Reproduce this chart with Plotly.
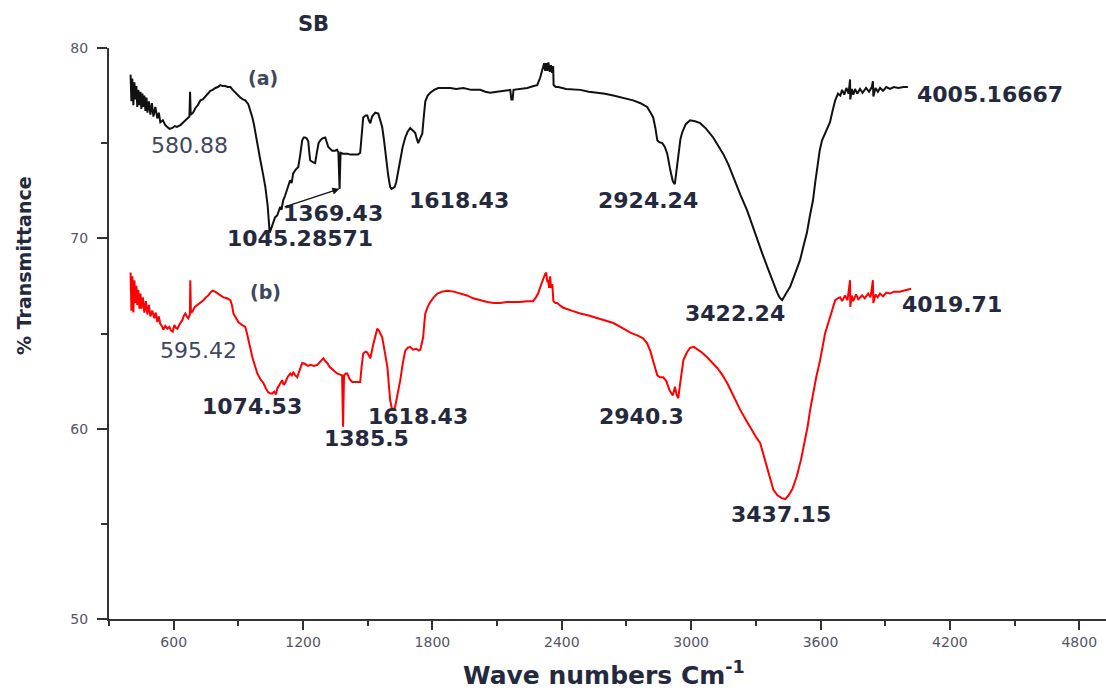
import plotly.graph_objects as go

# FTIR spectra of sample SB: (a) black trace, (b) red trace
wn_a = [400, 404, 408, 413, 418, 422, 427, 431, 436, 441, 446, 450, 455, 459, 464, 469, 474, 478, 485, 492,
        499, 506, 515, 524, 531, 538, 550, 561, 570, 580.88, 594, 605, 615, 631, 645, 654, 665, 673, 676, 679,
        690, 701, 712, 724, 735, 747, 758, 770, 781, 793, 805, 816, 828, 839, 851, 863, 874, 886, 898, 909,
        921, 932, 946, 956, 965, 972, 979, 990, 1002, 1014, 1025, 1036, 1045.28571, 1055, 1062, 1070, 1080,
        1087, 1094, 1100, 1108, 1117, 1128, 1140, 1147, 1154, 1165, 1178, 1187, 1196, 1203, 1210, 1217, 1224,
        1229, 1233, 1245, 1256, 1264, 1272, 1280, 1290, 1303, 1310, 1317, 1326, 1335, 1348, 1358, 1364,
        1369.43, 1374, 1385, 1405, 1420, 1442, 1455, 1465, 1472, 1479, 1490, 1498, 1505, 1512, 1520, 1535,
        1549, 1558, 1567, 1575, 1581, 1588, 1595, 1604, 1610, 1618.43, 1625, 1632, 1640, 1651, 1662, 1674,
        1685, 1697, 1708, 1720, 1727, 1734, 1745, 1753, 1760, 1767, 1778, 1790, 1808, 1827, 1855, 1883, 1910,
        1943, 1980, 2022, 2045, 2068, 2100, 2130, 2161, 2166, 2172, 2176, 2210, 2240, 2270, 2286, 2300, 2310,
        2318, 2323, 2328, 2333, 2338, 2344, 2350, 2355, 2360, 2362, 2372, 2384, 2420, 2486, 2525, 2564, 2600,
        2639, 2680, 2731, 2765, 2796, 2812, 2824, 2834, 2843, 2852, 2866, 2878, 2889, 2903, 2915, 2924.24,
        2931, 2940, 2950, 2958, 2975, 2995, 3018, 3042, 3070, 3102, 3125, 3148, 3172, 3195, 3228, 3260, 3283,
        3306, 3330, 3353, 3376, 3399, 3410, 3422.24, 3440, 3459, 3482, 3505, 3521, 3537, 3551, 3565, 3575,
        3584, 3596, 3607, 3621, 3633, 3644, 3656, 3668, 3681, 3692, 3700, 3710, 3720, 3730, 3737, 3738, 3745,
        3752, 3760, 3770, 3783, 3795, 3811, 3825, 3838, 3843, 3845, 3855, 3866, 3876, 3890, 3905, 3922, 3940,
        3960, 3985, 4005.16667]
T_a = [78.6, 77.2, 78.4, 77.0, 78.2, 77.3, 78.0, 76.9, 77.8, 77.0, 77.7, 76.8, 77.6, 76.9, 77.5, 76.7, 77.4,
       76.6, 77.2, 76.5, 77.1, 76.4, 76.9, 76.3, 76.6, 76.1, 76.2, 75.95, 75.85, 75.75, 75.8, 75.9, 75.85,
       75.95, 76.1, 76.2, 76.35, 76.4, 77.7, 76.5, 76.6, 76.85, 77.0, 77.25, 77.3, 77.45, 77.6, 77.75, 77.8,
       77.9, 77.95, 78.05, 78.0, 78.0, 77.95, 77.95, 77.8, 77.65, 77.5, 77.4, 77.3, 77.25, 77.05, 76.7, 76.35,
       76.0, 75.5, 74.8, 74.1, 73.4, 72.7, 71.7, 70.3, 70.6, 70.9, 71.1, 71.2, 71.5, 71.65, 71.5, 72.0, 72.25,
       72.7, 73.05, 72.9, 73.4, 73.6, 73.75, 74.4, 75.15, 75.3, 75.3, 75.25, 75.1, 74.5, 74.1, 74.0, 73.95,
       74.5, 75.0, 75.15, 75.25, 75.3, 75.05, 74.8, 74.7, 74.6, 74.6, 74.65, 74.5, 72.6, 74.5, 74.45, 74.45,
       74.4, 74.4, 74.4, 74.5, 75.6, 76.35, 76.45, 76.45, 76.2, 76.05, 76.4, 76.6, 76.55, 76.2, 75.85, 75.2,
       74.6, 73.9, 73.3, 72.7, 72.6, 72.65, 72.7, 72.95, 73.5, 74.1, 74.8, 75.3, 75.6, 75.8, 75.7, 75.55,
       75.25, 75.0, 75.3, 75.5, 76.4, 77.2, 77.5, 77.65, 77.8, 77.9, 77.9, 77.9, 77.85, 77.9, 77.8, 77.8,
       77.7, 77.65, 77.7, 77.75, 77.8, 77.3, 77.3, 77.8, 77.85, 77.9, 78.0, 78.05, 78.45, 78.9, 79.2, 78.8,
       79.2, 78.8, 79.25, 78.75, 79.1, 78.7, 79.05, 78.05, 77.95, 77.95, 77.85, 77.8, 77.7, 77.65, 77.6,
       77.5, 77.4, 77.25, 77.1, 76.9, 76.6, 76.35, 75.8, 75.15, 75.05, 75.0, 74.8, 74.45, 73.6, 73.0, 72.85,
       73.5, 74.4, 75.2, 75.55, 76.0, 76.2, 76.15, 76.05, 75.75, 75.3, 74.9, 74.45, 73.9, 73.2, 72.3, 71.45,
       70.7, 69.9, 69.2, 68.5, 67.8, 67.15, 66.9, 66.75, 67.1, 67.45, 68.15, 68.85, 69.6, 70.3, 71.2, 72.0,
       72.9, 73.75, 74.6, 75.15, 75.5, 75.8, 76.1, 76.7, 77.25, 77.6, 77.5, 77.8, 77.55, 77.9, 77.6, 78.35,
       77.3, 77.85, 77.55, 77.85, 77.6, 77.85, 77.65, 77.9, 77.7, 77.95, 78.25, 77.45, 77.9, 77.7, 77.9,
       77.75, 77.95, 77.85, 77.95, 77.9, 77.95, 77.95]

wn_b = [400, 404, 408, 413, 418, 422, 427, 431, 436, 441, 446, 450, 457, 464, 471, 478, 485, 492, 501, 510,
        517, 524, 531, 538, 545, 552, 561, 571, 580, 588, 595.42, 603, 610, 617, 628, 640, 648, 654, 661, 668,
        675, 677, 680, 687, 698, 710, 724, 738, 750, 761, 770, 780, 792, 803, 817, 831, 847, 863, 870, 877,
        888, 900, 916, 932, 940, 946, 955, 965, 977, 988, 1002, 1016, 1028, 1039, 1050, 1058, 1066, 1074.53,
        1080, 1092, 1103, 1110, 1117, 1128, 1141, 1148, 1155, 1164, 1173, 1185, 1196, 1210, 1222, 1234, 1250,
        1266, 1280, 1294, 1303, 1312, 1323, 1335, 1347, 1358, 1370, 1381, 1385.5, 1390, 1398, 1405, 1416,
        1428, 1446, 1465, 1472, 1479, 1490, 1498, 1505, 1512, 1525, 1537, 1544, 1552, 1558, 1567, 1575, 1583,
        1591, 1598, 1604, 1611, 1618.43, 1627, 1639, 1651, 1662, 1674, 1685, 1697, 1710, 1725, 1737, 1744,
        1751, 1757, 1762, 1767, 1778, 1790, 1806, 1823, 1845, 1869, 1899, 1929, 1960, 1989, 2020, 2054, 2085,
        2114, 2145, 2175, 2205, 2240, 2267, 2280, 2290, 2302, 2314, 2322, 2328, 2333, 2337, 2341, 2346, 2350,
        2356, 2361, 2370, 2379, 2395, 2407, 2445, 2486, 2525, 2564, 2600, 2639, 2680, 2718, 2750, 2777, 2795,
        2810, 2825, 2843, 2855, 2870, 2885, 2900, 2915, 2925, 2932, 2940.3, 2948, 2955, 2964, 2980, 2995,
        3012, 3027, 3050, 3074, 3097, 3120, 3143, 3167, 3197, 3227, 3257, 3287, 3304, 3320, 3337, 3353, 3367,
        3381, 3400, 3420, 3437.15, 3455, 3470, 3490, 3510, 3525, 3540, 3552, 3565, 3580, 3598, 3610, 3621,
        3633, 3644, 3656, 3668, 3680, 3691, 3700, 3714, 3725, 3737, 3738, 3745, 3752, 3765, 3775, 3793, 3805,
        3821, 3832, 3843, 3845, 3855, 3865, 3876, 3890, 3905, 3922, 3940, 3968, 3990, 4005, 4019.71]
T_b = [68.2, 66.2, 68.0, 66.1, 67.8, 66.6, 67.5, 66.5, 67.3, 66.3, 67.1, 66.3, 66.9, 66.1, 66.7, 66.0, 66.5,
       65.9, 66.2, 65.8, 66.1, 65.6, 65.9, 65.5, 65.4, 65.2, 65.4, 65.25, 65.35, 65.15, 65.1, 65.45, 65.3,
       65.25, 65.5, 65.7, 65.95, 66.05, 65.9, 65.8, 66.0, 67.8, 66.1, 66.15, 66.4, 66.5, 66.6, 66.75, 66.9,
       67.0, 67.15, 67.25, 67.2, 67.1, 67.0, 66.9, 66.85, 66.75, 66.5, 66.05, 65.8, 65.6, 65.45, 65.35, 65.0,
       64.65, 64.2, 63.75, 63.3, 62.9, 62.6, 62.4, 62.1, 61.9, 61.85, 61.85, 61.95, 61.8, 62.1, 62.35, 62.55,
       62.3, 62.4, 62.7, 62.9, 62.8, 62.95, 62.8, 62.7, 63.1, 63.45, 63.4, 63.3, 63.35, 63.3, 63.35, 63.5,
       63.7, 63.55, 63.45, 63.25, 63.1, 63.0, 62.9, 62.85, 62.8, 60.1, 62.8, 62.9, 62.9, 62.6, 62.45, 62.45,
       62.45, 63.3, 63.95, 64.05, 64.0, 63.85, 63.7, 64.4, 65.0, 65.25, 65.15, 65.0, 64.8, 64.3, 63.8, 63.25,
       62.3, 61.5, 61.1, 60.95, 61.15, 61.8, 62.55, 63.4, 64.1, 64.25, 64.3, 64.15, 64.2, 64.1, 64.15, 64.5,
       64.8, 65.5, 66.05, 66.4, 66.65, 66.9, 67.1, 67.2, 67.25, 67.2, 67.1, 67.0, 66.85, 66.75, 66.65, 66.6,
       66.6, 66.65, 66.65, 66.65, 66.7, 66.7, 66.9, 67.1, 67.5, 67.9, 68.1, 68.2, 67.7, 67.8, 67.4, 68.0,
       67.4, 67.6, 66.7, 66.6, 66.6, 66.45, 66.35, 66.2, 66.05, 65.95, 65.8, 65.7, 65.55, 65.3, 65.05, 64.9,
       64.75, 64.5, 64.1, 63.5, 62.8, 62.7, 62.7, 62.5, 62.0, 61.75, 62.2, 61.8, 61.6, 62.3, 62.9, 63.6,
       64.0, 64.25, 64.3, 64.2, 64.0, 63.75, 63.5, 63.2, 62.85, 62.4, 61.7, 61.0, 60.4, 59.8, 59.5, 59.25,
       58.6, 58.0, 57.4, 56.8, 56.5, 56.35, 56.3, 56.55, 56.85, 57.5, 58.4, 59.2, 60.1, 61.0, 61.85, 62.7,
       63.6, 64.4, 65.0, 65.45, 65.85, 66.3, 66.75, 66.85, 66.9, 66.7, 67.0, 66.75, 67.8, 66.4, 67.0, 66.7,
       67.05, 66.8, 67.0, 66.85, 67.1, 66.9, 67.8, 66.6, 67.05, 66.9, 67.1, 66.95, 67.15, 67.1, 67.2, 67.2,
       67.25, 67.3, 67.35]

x_ticks = [600, 1200, 1800, 2400, 3000, 3600, 4200, 4800]
y_ticks = [50, 60, 70, 80]

# peak labels (text) for each trace
peaks_a = ["580.88", "1369.43", "1045.28571", "1618.43", "2924.24", "3422.24", "4005.16667"]
peaks_b = ["595.42", "1074.53", "1385.5", "1618.43", "2940.3", "3437.15", "4019.71"]

# label placement (x, y in data units, bold flag)
place_a = [(673, 74.89, False), (1338, 71.31, True), (1187, 70.0, True), (1924, 72.0, True),
           (2801, 72.0, True), (3204, 66.06, True), (4386, 77.57, True)]
place_b = [(714, 64.11, False), (965, 61.17, True), (1494, 59.49, True), (1734, 60.65, True),
           (2768, 60.65, True), (3417, 55.50, True), (4210, 66.53, True)]

LABEL_COLOR = "#25293d"
SOFT_COLOR = "#3e4660"
FONT = "DejaVu Sans"

fig = go.Figure()
fig.add_trace(go.Scatter(x=wn_a, y=T_a, mode="lines", name="(a)",
                         line=dict(color="#111111", width=2), showlegend=False))
fig.add_trace(go.Scatter(x=wn_b, y=T_b, mode="lines", name="(b)",
                         line=dict(color="#ff0000", width=2), showlegend=False))

annotations = []
for texts, places in ((peaks_a, place_a), (peaks_b, place_b)):
    for txt, (px, py, bold) in zip(texts, places):
        annotations.append(dict(
            x=px, y=py, xref="x", yref="y", showarrow=False,
            text=f"<b>{txt}</b>" if bold else txt,
            font=dict(family=FONT, size=22, color=LABEL_COLOR if bold else SOFT_COLOR),
            xanchor="center", yanchor="middle"))

# trace tags
annotations.append(dict(x=1013, y=78.41, xref="x", yref="y", showarrow=False, text="<b>(a)</b>",
                        font=dict(family=FONT, size=19, color=SOFT_COLOR)))
annotations.append(dict(x=1025, y=67.16, xref="x", yref="y", showarrow=False, text="<b>(b)</b>",
                        font=dict(family=FONT, size=19, color=SOFT_COLOR)))

# pointer to the 1369 band
annotations.append(dict(x=1369.43, y=72.6, xref="x", yref="y", ax=1108, ay=71.63, axref="x", ayref="y",
                        text="", showarrow=True, arrowhead=2, arrowsize=1.2, arrowwidth=1.2,
                        arrowcolor="#111111", standoff=0))

# titles
annotations.append(dict(x=0.2056, y=1.042, xref="paper", yref="paper", showarrow=False, text="<b>SB</b>",
                        font=dict(family=FONT, size=21, color=LABEL_COLOR), xanchor="center", yanchor="middle"))
annotations.append(dict(x=0.496, y=-0.128, xref="paper", yref="paper", showarrow=False,
                        text="<b>Wave numbers Cm<sup>-1</sup></b>",
                        font=dict(family=FONT, size=25, color=LABEL_COLOR), xanchor="center", yanchor="bottom"))
annotations.append(dict(x=-0.0853, y=0.62, xref="paper", yref="paper", showarrow=False,
                        text="<b>% Transmittance</b>", textangle=-90,
                        font=dict(family=FONT, size=19, color=LABEL_COLOR), xanchor="center", yanchor="middle"))

axis_common = dict(showgrid=False, zeroline=False, showline=True, linecolor="#333333", linewidth=2,
                   ticks="outside", tickcolor="#333333", tickwidth=2,
                   tickfont=dict(family=FONT, size=14, color="#555566"))

fig.update_layout(
    width=1106, height=693,
    margin=dict(l=109, r=0, t=48, b=74),
    paper_bgcolor="white", plot_bgcolor="white",
    xaxis=dict(range=[300, 4924], tickvals=x_ticks, ticklen=9,
               minor=dict(dtick=300, tick0=300, ticklen=5, tickwidth=2, tickcolor="#333333", ticks="outside"),
               **axis_common),
    yaxis=dict(range=[50, 80], tickvals=y_ticks, ticklen=10, ticklabelstandoff=6,
               minor=dict(dtick=5, tick0=50, ticklen=6, tickwidth=2, tickcolor="#333333", ticks="outside"),
               **axis_common),
    annotations=annotations,
)

fig.write_html("out.html")
